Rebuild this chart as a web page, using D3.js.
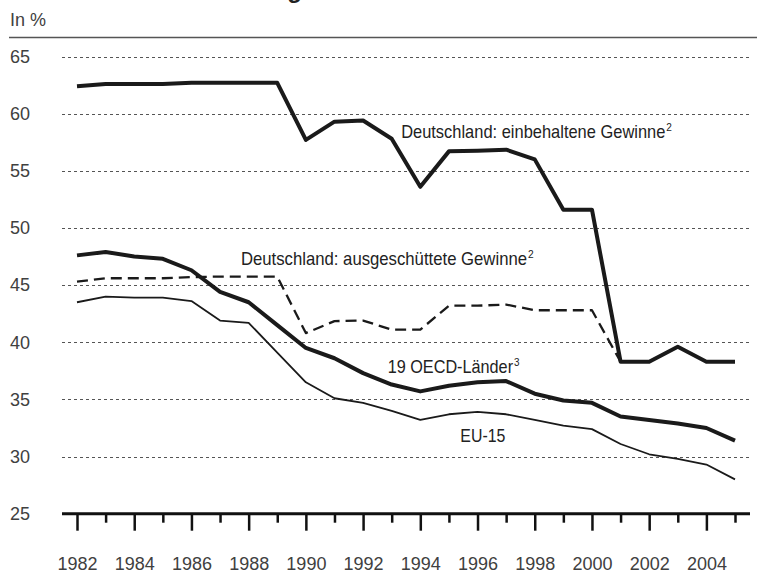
<!DOCTYPE html>
<html><head><meta charset="utf-8">
<script src="https://cdn.jsdelivr.net/npm/d3@7"></script>
<style>
html,body{margin:0;padding:0;background:#fff;}
svg{display:block;}
</style></head>
<body>
<svg id="chart" width="757" height="574"></svg>
<script>
const years = d3.range(1982, 2006);
const deRetained = [62.4,62.6,62.6,62.6,62.7,62.7,62.7,62.7,57.7,59.3,59.4,57.8,53.6,56.7,56.75,56.85,56.0,51.6,51.6,38.3,38.3,39.6,38.3,38.3];
const deDistributedYears = d3.range(1982, 2002);
const deDistributed = [45.3,45.6,45.6,45.6,45.7,45.75,45.75,45.75,40.8,41.85,41.9,41.1,41.1,43.2,43.2,43.3,42.8,42.8,42.8,38.3];
const oecd19 = [47.6,47.9,47.5,47.3,46.3,44.4,43.5,41.5,39.5,38.6,37.3,36.3,35.7,36.2,36.5,36.6,35.5,34.9,34.7,33.5,33.2,32.9,32.5,31.4];
const eu15 = [43.5,44.0,43.9,43.9,43.6,41.9,41.7,39.1,36.5,35.1,34.7,34.0,33.2,33.7,33.9,33.7,33.2,32.7,32.4,31.1,30.2,29.8,29.3,28.0];
const yTicks = [25,30,35,40,45,50,55,60,65];
const majorYears = d3.range(1982, 2006, 2);
const minorYears = d3.range(1983, 2006, 2);
const unitLabel = "In %";
const titleText = "Steuerbelastung";

const svg = d3.select("#chart");
const x = d3.scaleLinear().domain([1982, 2005]).range([77, 735]);
const y = d3.scaleLinear().domain([25, 65]).range([513.7, 56.5]);
const plotLeft = 62, plotRight = 750;
const tickFont = "'Liberation Sans', Arial, sans-serif";
const labelFont = "'Liberation Sans', Arial, sans-serif";
const textCol = "#404040";

// title, cut off at the top edge as in the reference
svg.append("text").attr("x", 302).attr("y", -2).attr("text-anchor", "end")
  .attr("font-family", tickFont).attr("font-weight", "bold").attr("font-size", 24)
  .attr("fill", "#222").text(titleText);

// unit label + rule
svg.append("text").attr("x", 10).attr("y", 26).attr("font-family", tickFont)
  .attr("font-size", 18).attr("fill", textCol).text(unitLabel);
svg.append("line").attr("x1", 9).attr("x2", 757).attr("y1", 37.5).attr("y2", 37.5)
  .attr("stroke", "#555").attr("stroke-width", 1.5);

// gridlines
svg.append("g").selectAll("line").data(yTicks.filter(d => d > 25)).join("line")
  .attr("x1", plotLeft).attr("x2", plotRight)
  .attr("y1", d => Math.round(y(d)) + 0.5).attr("y2", d => Math.round(y(d)) + 0.5)
  .attr("stroke", "#555").attr("stroke-width", 1).attr("stroke-dasharray", "3,3");

// y labels
const yAxis = svg.append("g").attr("transform", "translate(30,0)")
  .call(d3.axisLeft(y).tickValues(yTicks).tickSize(0).tickPadding(0));
yAxis.select(".domain").remove();
yAxis.selectAll("text").attr("font-family", tickFont).attr("font-size", 18).attr("fill", textCol);

// x axis
const axisY = y(25);
const gMinor = svg.append("g").attr("transform", `translate(0,${axisY})`)
  .call(d3.axisBottom(x).tickValues(minorYears).tickSize(9).tickFormat(""));
gMinor.select(".domain").remove();
gMinor.selectAll("line").attr("stroke", "#111").attr("stroke-width", 2.5);
const gMajor = svg.append("g").attr("transform", `translate(0,${axisY})`)
  .call(d3.axisBottom(x).tickValues(majorYears).tickSize(17).tickPadding(27).tickFormat(d3.format("d")));
gMajor.select(".domain").remove();
gMajor.selectAll("line").attr("stroke", "#111").attr("stroke-width", 2.5);
gMajor.selectAll("text").attr("font-family", tickFont).attr("font-size", 18).attr("fill", textCol);
svg.append("line").attr("x1", plotLeft).attr("x2", plotRight).attr("y1", axisY).attr("y2", axisY)
  .attr("stroke", "#111").attr("stroke-width", 3);

// lines
const line = d3.line().x(d => x(d[0])).y(d => y(d[1]));
function drawSeries(xs, vals, width, dash) {
  svg.append("path").datum(xs.map((yr, i) => [yr, vals[i]]))
    .attr("d", line).attr("fill", "none").attr("stroke", "#1a1a1a")
    .attr("stroke-width", width).attr("stroke-linejoin", "round")
    .attr("stroke-dasharray", dash || null);
}
drawSeries(deDistributedYears, deDistributed, 2.3, "11,6");
drawSeries(years, eu15, 1.8);
drawSeries(years, oecd19, 4);
drawSeries(years, deRetained, 4);

// annotations: one text each, horizontally condensed to the reference's narrow typeface
function label(yr, val, main, width, sup) {
  const x0 = x(yr), y0 = y(val);
  const t = svg.append("text").attr("x", 0).attr("y", 0)
    .attr("font-family", labelFont).attr("font-size", 18).attr("fill", "#222");
  t.append("tspan").text(main);
  if (sup) t.append("tspan").attr("dx", 1).attr("dy", -7).attr("font-size", 11).text(sup);
  const natural = t.node().getComputedTextLength();
  const s = width / natural;
  t.attr("transform", `translate(${x0},${y0}) scale(${s},1)`);
}
label(1993.33, 57.87, "Deutschland: einbehaltene Gewinne", 270, "2");
label(1987.73, 46.72, "Deutschland: ausgeschüttete Gewinne", 292, "2");
label(1992.86, 37.31, "19 OECD-Länder", 131, "3");
label(1995.4, 31.23, "EU-15", 45, null);
</script>
</body></html>
